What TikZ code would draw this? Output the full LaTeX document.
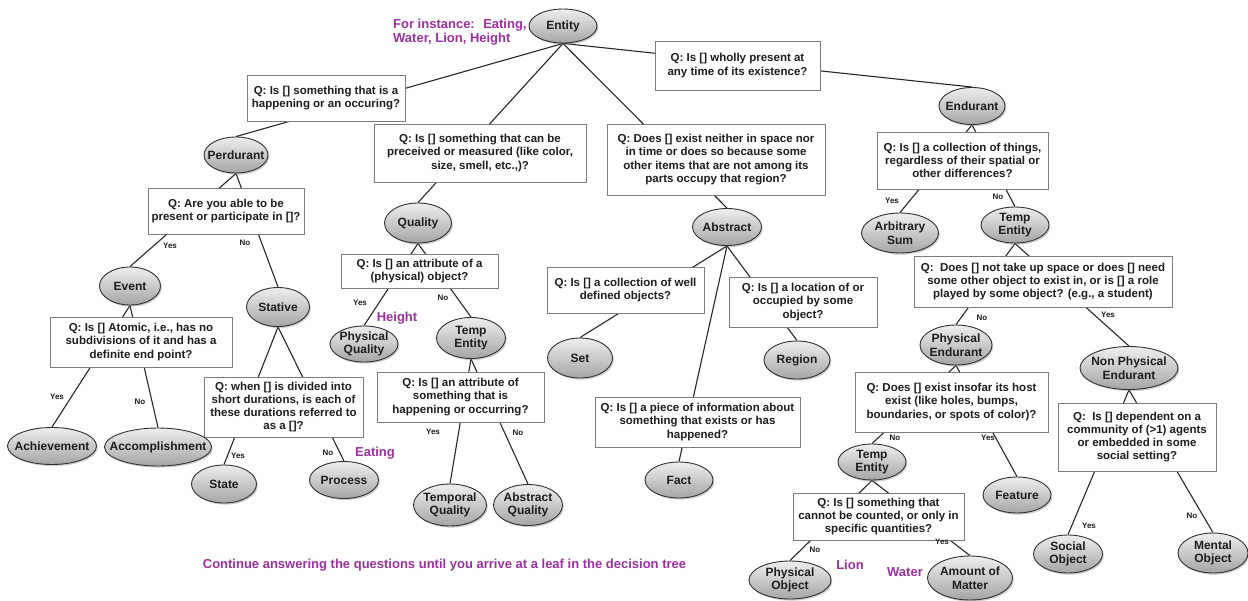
\documentclass[tikz,border=0pt]{standalone}
\usepackage{fontspec}
\setmainfont{Liberation Sans}
\usetikzlibrary{shapes.geometric,shadows}
\pgfdeclarelayer{bg}
\pgfsetlayers{bg,main}
\definecolor{purp}{RGB}{155,48,160}
\definecolor{edgec}{RGB}{40,40,40}
\definecolor{boxc}{RGB}{125,125,125}
\definecolor{entborder}{RGB}{50,50,50}
\definecolor{enttop}{RGB}{238,238,238}
\definecolor{entbot}{RGB}{165,165,165}
\definecolor{txt}{RGB}{30,30,30}
\tikzset{
 entshape/.style={ellipse, draw=entborder, line width=0.9pt, top color=enttop, bottom color=entbot,
   drop shadow={shadow xshift=1.3pt, shadow yshift=-1.6pt, opacity=0.4}, inner sep=0pt},
 enttext/.style={font=\fontsize{12}{13.5}\selectfont\bfseries, align=center, inner sep=0pt, text=txt},
 qb/.style={rectangle, draw=boxc, fill=white, line width=0.8pt, align=center, inner sep=0pt, text=txt,
   font=\fontsize{11.5}{13.3}\selectfont\bfseries},
 yn/.style={font=\fontsize{8}{9}\selectfont\bfseries, inner sep=0pt, text=txt},
 ex/.style={font=\fontsize{13}{14.5}\selectfont\bfseries, text=purp, inner sep=0pt},
 conn/.style={draw=edgec, line width=1.1pt},
}
\newcommand\entnode[6]{%
  \node[entshape, minimum width=#4pt, minimum height=#5pt] (#1) at (#2,#3) {};
  \node[enttext] (#1-t) at (#1.center) {#6};}
\newcommand\qbox[6]{%
  \node[qb, minimum width=#4pt, minimum height=#5pt] (#1) at (#2,#3) {#6};}
\begin{document}
\begin{tikzpicture}[x=1pt,y=-1pt]
\begin{pgfonlayer}{bg}
\fill[white] (0,0) rectangle (1248,600);
\end{pgfonlayer}
\useasboundingbox (0,0) rectangle (1248,600);

% question boxes
\qbox{q1}{326}{98}{158}{46}{Q: Is [] something that is a\\happening or an occuring?}
\qbox{q2}{480}{153}{212}{58}{Q: Is [] something that can be\\preceived or measured (like color,\\size, smell, etc.,)?}
\qbox{q3}{716}{159.5}{218}{71}{Q: Does [] exist neither in space nor\\in time or does so because some\\other items that are not among its\\parts occupy that region?}
\qbox{q4}{737.5}{65.5}{165}{49}{Q: Is [] wholly present at\\any time of its existence?}
\qbox{q5}{962.5}{160.5}{171}{57}{Q: Is [] a collection of things,\\regardless of their spatial or\\other differences?}
\qbox{q6}{1043}{281.5}{258}{51}{Q:~ Does [] not take up space or does [] need\\some other object to exist in, or is [] a role\\played by some object? (e.g., a student)}
\qbox{q7}{951.5}{402}{193}{60}{Q: Does [] exist insofar its host\\exist (like holes, bumps,\\boundaries, or spots of color)?}
\qbox{q8}{878.5}{516.5}{171}{47}{Q: Is [] something that\\cannot be counted, or only in\\specific quantities?}
\qbox{q9}{1137}{437}{158}{68}{Q:~ Is [] dependent on a\\community of (>1) agents\\or embedded in some\\social setting?}
\qbox{q10}{226}{211}{156}{46}{Q: Are you able to be\\present or participate in []?}
\qbox{q11}{141}{342}{182}{50}{Q: Is [] Atomic, i.e., has no\\subdivisions of it and has a\\definite end point?}
\qbox{q12}{283.5}{407}{159}{60}{Q: when [] is divided into\\short durations, is each of\\these durations referred to\\as a []?}
\qbox{q13}{419.5}{271}{157}{34}{Q: Is [] an attribute of a\\(physical) object?}
\qbox{q14}{460.5}{397}{167}{50}{Q: Is [] an attribute of\\something that is\\happening or occurring?}
\qbox{q15}{625.5}{290}{157}{46}{Q: Is [] a collection of well\\defined objects?}
\qbox{q16}{803}{302}{148}{50}{Q: Is [] a location of or\\occupied by some\\object?}
\qbox{q17}{697.5}{422}{205}{50}{Q: Is [] a piece of information about\\something that exists or has\\happened?}

% entity ellipses
\entnode{entity}{563}{26}{68}{34}{Entity}
\entnode{perd}{236}{155}{64}{36}{Perdurant}
\entnode{endur}{972}{106}{66}{37}{Endurant}
\entnode{quality}{418}{223}{67}{40}{Quality}
\entnode{abstract}{727}{227}{69}{37}{Abstract}
\entnode{event}{130}{286}{61}{38}{Event}
\entnode{stative}{278}{307}{63}{39}{Stative}
\entnode{achieve}{52}{446}{89}{37}{Achievement}
\entnode{accomp}{158}{447}{107}{38}{Accomplishment}
\entnode{state}{224}{484}{65}{38}{State}
\entnode{process}{344}{480}{69}{37}{Process}
\entnode{physq}{364}{344}{68}{36}{Physical\\Quality}
\entnode{tempq}{471}{338}{69}{41}{Temp\\Entity}
\entnode{tempqual}{450}{505}{73}{42}{Temporal\\Quality}
\entnode{absqual}{528}{505}{69}{41}{Abstract\\Quality}
\entnode{set}{580}{358}{65}{40}{Set}
\entnode{region}{797}{360}{66}{38}{Region}
\entnode{fact}{679}{480}{68}{36}{Fact}
\entnode{arbsum}{900}{233}{77}{40}{Arbitrary\\Sum}
\entnode{tempa}{1015}{225}{68}{36}{Temp\\Entity}
\entnode{physend}{956}{345}{72}{40}{Physical\\Endurant}
\entnode{nonphys}{1129}{368}{98}{43}{Non Physical\\Endurant}
\entnode{tempb}{872}{462}{68}{36}{Temp\\Entity}
\entnode{feature}{1017}{495}{68}{36}{Feature}
\entnode{physobj}{790}{580}{82}{38}{Physical\\Object}
\entnode{amount}{970}{578}{85}{44}{Amount of\\Matter}
\entnode{social}{1068}{554}{69}{38}{Social\\Object}
\entnode{mental}{1213}{553}{70}{40}{Mental\\Object}

% connectors (behind the boxes)
\begin{pgfonlayer}{bg}
\draw[conn] (entity.south) -- (perd.north);
\draw[conn] (entity.south) -- (quality.north);
\draw[conn] (entity.south) -- (abstract.north);
\draw[conn] (entity.south) -- (endur.north);
\draw[conn] (perd.south) -- (event.north);
\draw[conn] (perd.south) -- (stative.north);
\draw[conn] (event.south) -- (achieve.north);
\draw[conn] (event.south) -- (accomp.north);
\draw[conn] (stative.south) -- (state.north);
\draw[conn] (stative.south) -- (process.north);
\draw[conn] (quality.south) -- (physq.north);
\draw[conn] (quality.south) -- (tempq.north);
\draw[conn] (tempq.south) -- (tempqual.north);
\draw[conn] (tempq.south) -- (absqual.north);
\draw[conn] (abstract.south) -- (set.north);
\draw[conn] (abstract.south) -- (fact.north);
\draw[conn] (abstract.south) -- (region.north);
\draw[conn] (endur.south) -- (arbsum.north);
\draw[conn] (endur.south) -- (tempa.north);
\draw[conn] (tempa.south) -- (physend.north);
\draw[conn] (tempa.south) -- (nonphys.north);
\draw[conn] (physend.south) -- (tempb.north);
\draw[conn] (physend.south) -- (feature.north);
\draw[conn] (tempb.south) -- (physobj.north);
\draw[conn] (tempb.south) -- (amount.north);
\draw[conn] (nonphys.south) -- (social.north);
\draw[conn] (nonphys.south) -- (mental.north);
\end{pgfonlayer}

% yes / no labels
\node[yn] (y1) at (170,246) {Yes};
\node[yn] (n1) at (245,243) {No};
\node[yn] (y2) at (57,397) {Yes};
\node[yn] (n2) at (140,402) {No};
\node[yn] (y3) at (238,456) {Yes};
\node[yn] (n3) at (328,453) {No};
\node[yn] (y4) at (360,303) {Yes};
\node[yn] (n4) at (443,298) {No};
\node[yn] (y5) at (433,432) {Yes};
\node[yn] (n5) at (518,433) {No};
\node[yn] (y6) at (892,201) {Yes};
\node[yn] (n6) at (998,197) {No};
\node[yn] (n7) at (982,318) {No};
\node[yn] (y7) at (1108,315) {Yes};
\node[yn] (n8) at (895,438) {No};
\node[yn] (y8) at (988,438) {Yes};
\node[yn] (n9) at (815,550) {No};
\node[yn] (y9) at (942,542) {Yes};
\node[yn] (y10) at (1089,526) {Yes};
\node[yn] (n10) at (1192,516) {No};

% purple examples
\node[ex, anchor=west, align=left] (inst) at (393,32) {For instance:~ Eating,\\Water, Lion, Height};
\node[ex] (height) at (397,318) {Height};
\node[ex] (eating) at (375,453) {Eating};
\node[ex] (lion) at (850,565) {Lion};
\node[ex] (water) at (905,572) {Water};
\node[ex] (cont) at (444.5,565) {Continue answering the questions until you arrive at a leaf in the decision tree};
\end{tikzpicture}
\end{document}
